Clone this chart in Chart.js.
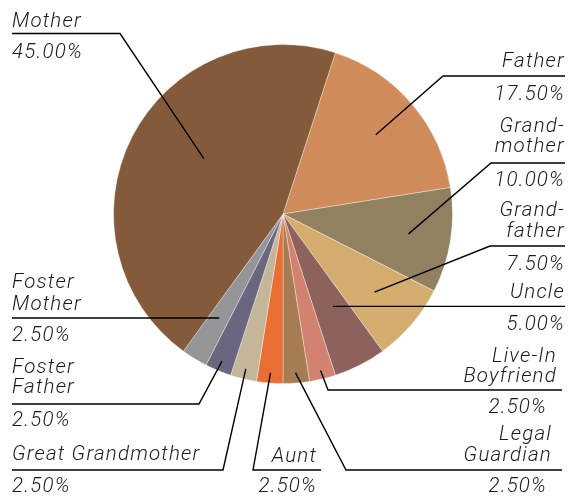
<!DOCTYPE html>
<html>
<head>
<meta charset="utf-8">
<script src="https://cdn.jsdelivr.net/npm/chart.js@4/dist/chart.umd.min.js"></script>
<style>
  html, body { margin: 0; padding: 0; background: #ffffff; }
  #wrap { width: 571px; height: 496px; }
</style>
</head>
<body>
<div id="wrap"><canvas id="c" width="571" height="496"></canvas></div>
<script>
// ---- data ----
const categories = ['Father', 'Grandmother', 'Grandfather', 'Uncle', 'Live-In Boyfriend',
  'Legal Guardian', 'Aunt', 'Great Grandmother', 'Foster Father', 'Foster Mother', 'Mother'];
const shares = [17.5, 10, 7.5, 5, 2.5, 2.5, 2.5, 2.5, 2.5, 2.5, 45];
const sliceColors = ['#D08B5B', '#928160', '#D4AC6E', '#8E625C', '#D2826F',
  '#A67C52', '#E86E34', '#C6B699', '#6B6680', '#939597', '#835A3A'];

// ---- label layout (annotation placement only) ----
const labelLayout = [
  { lines: ['Father'], align: 'right', tx: 564, nameY: [67], pctX: 564, pctY: 100, lineY: 76, elbowX: 443, endX: 565, rf: 0.72, da: 0 },
  { lines: ['Grand-', 'mother'], align: 'right', tx: 564, nameY: [132, 152], pctX: 564, pctY: 186, lineY: 163, elbowX: 491, endX: 565, rf: 0.75, da: 0 },
  { lines: ['Grand-', 'father'], align: 'right', tx: 564, nameY: [216, 237], pctX: 564, pctY: 270, lineY: 246, elbowX: 490, endX: 565, rf: 0.71, da: 0 },
  { lines: ['Uncle'], align: 'right', tx: 564, nameY: [298], pctX: 564, pctY: 330, lineY: 306, elbowX: null, endX: 565, rf: 0.62, da: -1.5 },
  { lines: ['Live-In', 'Boyfriend'], align: 'right', tx: 556, nameY: [362, 382], pctX: 546, pctY: 413, lineY: 390, elbowX: 328, endX: 562, rf: 0.95, da: 0 },
  { lines: ['Legal', 'Guardian'], align: 'right', tx: 551, nameY: [440, 461], pctX: 546, pctY: 492, lineY: 470, elbowX: 346, endX: 562, rf: 0.94, da: 0 },
  { lines: ['Aunt'], align: 'right', tx: 316, nameY: [462], pctX: 316, pctY: 492, lineY: 470, elbowX: 253, endX: 321, rf: 0.94, da: 0 },
  { lines: ['Great Grandmother'], align: 'left', tx: 12, nameY: [460], pctX: 12, pctY: 492, lineY: 470, elbowX: 223, endX: 12, rf: 0.94, da: 0 },
  { lines: ['Foster', 'Father'], align: 'left', tx: 12, nameY: [373, 393], pctX: 12, pctY: 426, lineY: 404, elbowX: 199, endX: 12, rf: 0.94, da: 0 },
  { lines: ['Foster', 'Mother'], align: 'left', tx: 12, nameY: [288, 310], pctX: 12, pctY: 341, lineY: 319, elbowX: null, endX: 12, rf: 0.72, da: 0 },
  { lines: ['Mother'], align: 'left', tx: 12, nameY: [27], pctX: 12, pctY: 58, lineY: 33.5, elbowX: 120, endX: 12, rf: 0.57, da: 8 }
];

const FONT = 'italic 300 20.5px Roboto, "Liberation Sans", sans-serif';

const labelPlugin = {
  id: 'leaderLabels',
  afterDraw(chart) {
    const ctx = chart.ctx;
    const meta = chart.getDatasetMeta(0);
    const total = shares.reduce((a, b) => a + b, 0);
    ctx.save();
    ctx.font = FONT;
    if ('letterSpacing' in ctx) ctx.letterSpacing = '1.2px';
    ctx.fillStyle = '#1a1a1a';
    ctx.strokeStyle = '#000000';
    ctx.lineWidth = 1.4;
    meta.data.forEach((arc, i) => {
      const L = labelLayout[i];
      if (!L) return;
      const p = arc.getProps(['x', 'y', 'startAngle', 'endAngle', 'outerRadius'], true);
      const mid = (p.startAngle + p.endAngle) / 2 + L.da * Math.PI / 180;
      const ax = p.x + Math.cos(mid) * p.outerRadius * L.rf;
      const ay = p.y + Math.sin(mid) * p.outerRadius * L.rf;
      ctx.beginPath();
      ctx.moveTo(ax, ay);
      if (L.elbowX !== null) {
        ctx.lineTo(L.elbowX, L.lineY);
        ctx.lineTo(L.endX, L.lineY);
      } else {
        ctx.lineTo(L.endX, ay);
      }
      ctx.stroke();
      ctx.textAlign = L.align;
      ctx.textBaseline = 'alphabetic';
      const shift = L.align === 'right' ? 1 : 0;
      L.lines.forEach((t, k) => ctx.fillText(t, L.tx + shift, L.nameY[k]));
      const pct = (shares[i] / total * 100).toFixed(2) + '%';
      ctx.fillText(pct, L.pctX + shift, L.pctY);
    });
    ctx.restore();
  }
};

new Chart(document.getElementById('c'), {
  type: 'pie',
  data: {
    labels: categories,
    datasets: [{
      data: shares,
      backgroundColor: sliceColors,
      borderColor: 'rgba(255,255,255,0.35)',
      borderWidth: 1
    }]
  },
  options: {
    responsive: false,
    animation: false,
    rotation: 18,
    layout: { padding: { left: 113, right: 118, top: 44, bottom: 112 } },
    plugins: { legend: { display: false }, tooltip: { enabled: false } }
  },
  plugins: [labelPlugin]
});
</script>
</body>
</html>
